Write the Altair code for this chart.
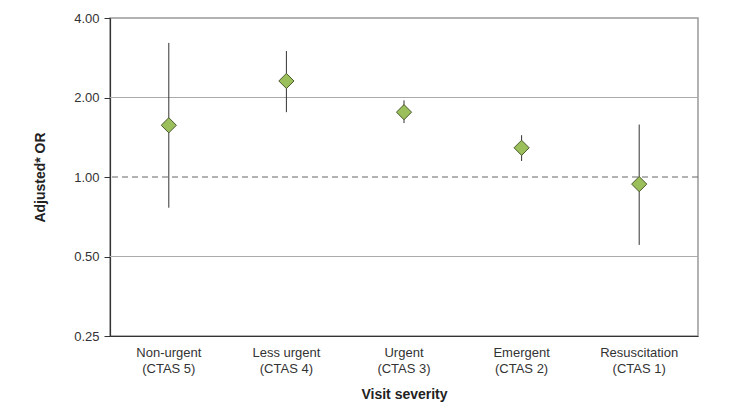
import altair as alt
import pandas as pd

categories = ["Non-urgent\n(CTAS 5)", "Less urgent\n(CTAS 4)", "Urgent\n(CTAS 3)",
              "Emergent\n(CTAS 2)", "Resuscitation\n(CTAS 1)"]
or_values = [1.57, 2.31, 1.76, 1.29, 0.94]
ci_lower = [0.765, 1.76, 1.60, 1.15, 0.553]
ci_upper = [3.22, 3.00, 1.95, 1.44, 1.58]
y_ticks = [0.25, 0.5, 1, 2, 4]
solid_grid = [0.5, 2]
ref_line = [1]

df = pd.DataFrame({"cat": categories, "or": or_values, "lo": ci_lower, "hi": ci_upper})
grid_df = pd.DataFrame({"y": solid_grid})
ref_df = pd.DataFrame({"y": ref_line})

FONT = "Liberation Sans"

xenc = alt.X("cat:N", sort=categories, title="Visit severity",
             scale=alt.Scale(paddingInner=0, paddingOuter=0),
             axis=alt.Axis(labelAngle=0, labelExpr="split(datum.label, '\\n')",
                           ticks=False, domainColor="#333", domainWidth=1.2,
                           labelFontSize=13, labelColor="#333", labelPadding=10,
                           labelLineHeight=16, titleFontSize=14, titleFontWeight="bold",
                           titleColor="#222", titlePadding=12))
yscale = alt.Scale(type="log", base=2, domain=[0.25, 4], nice=False)
yaxis = alt.Axis(values=y_ticks, format=".2f", grid=False, tickSize=6, tickColor="#333",
                 domainColor="#333", domainWidth=1.2, labelFontSize=13, labelColor="#333",
                 labelPadding=5, title="Adjusted* OR", titleFontSize=14,
                 titleFontWeight="bold", titleColor="#222", titlePadding=26)

base = alt.Chart(df)

grid = alt.Chart(grid_df).mark_rule(color="#aaaaaa", strokeWidth=1).encode(
    y=alt.Y("y:Q", scale=yscale, axis=yaxis))
ref = alt.Chart(ref_df).mark_rule(color="#666666", strokeWidth=1, strokeDash=[6, 4]).encode(
    y=alt.Y("y:Q", scale=yscale))
bars = base.mark_rule(color="#333333", strokeWidth=1).encode(
    x=xenc, y=alt.Y("lo:Q", scale=yscale), y2="hi:Q")
pts = base.mark_point(shape="diamond", size=230, filled=True, fill="#9bbf5a",
                      stroke="#4b5a2c", strokeWidth=1, opacity=1).encode(
    x=alt.X("cat:N", sort=categories), y=alt.Y("or:Q", scale=yscale))

chart = alt.layer(grid, ref, bars, pts).properties(
    width=588, height=318,
    autosize=alt.AutoSizeParams(type="none"),
    padding={"left": 102, "top": 10, "right": 34, "bottom": 72},
).configure(font=FONT).configure_view(stroke="#999999", strokeWidth=1.5)

chart.save("out.html", embed_options={"renderer": "svg", "actions": False})
